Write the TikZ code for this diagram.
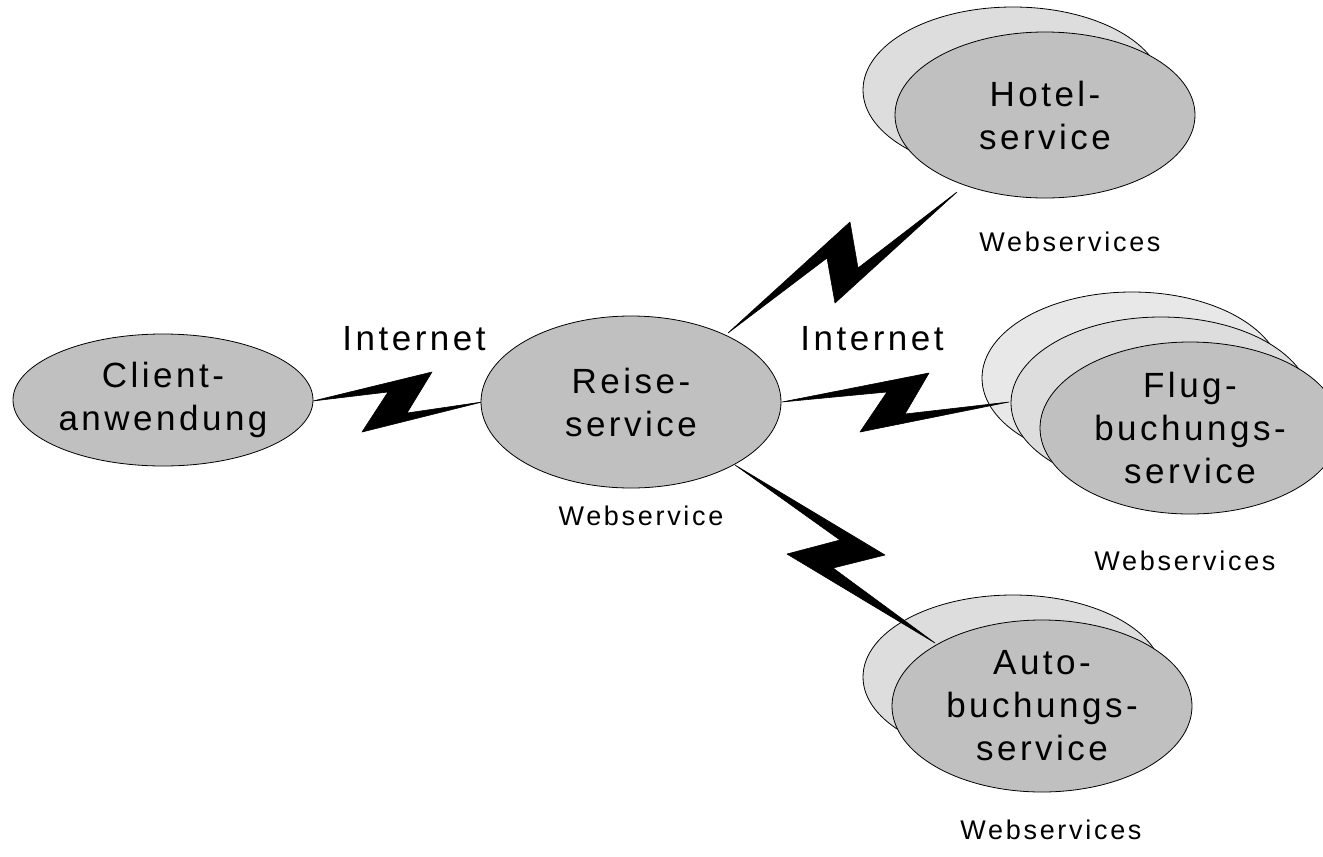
\documentclass[tikz,border=0pt]{standalone}
\usepackage{fontspec}
\setmainfont{Liberation Sans}
\newfontfamily\lsfont[LetterSpace=10]{Liberation Sans}
\usetikzlibrary{shapes.geometric}
\definecolor{frontgray}{HTML}{C0C0C0}
\definecolor{backgray}{HTML}{DDDDDD}
\definecolor{farback}{HTML}{E8E8E8}
\begin{document}
\begin{tikzpicture}[x=1pt,y=-1pt,
  svc/.style={ellipse, draw=black, line width=0.8pt, fill=frontgray, minimum width=300pt, minimum height=172pt, inner sep=0pt, align=center, font=\lsfont\fontsize{35}{43}\selectfont},
  ghost/.style={ellipse, draw=black, line width=0.8pt, fill=backgray, minimum width=300pt, minimum height=166pt, inner sep=0pt},
  small/.style={font=\lsfont\fontsize{27}{32}\selectfont, anchor=base},
  bigl/.style={font=\lsfont\fontsize{35}{43}\selectfont, anchor=base},
  bolt/.style={fill=black, draw=black, line width=0.6pt, line join=round}]
\useasboundingbox (0,0) rectangle (1323,857);
% back ellipses
\node[ghost] (hotelB) at (1013,90) {};
\node[ghost, fill=farback, minimum height=172pt] (flugB) at (1132,378) {};
\node[ghost, minimum height=172pt] (flugM) at (1161,403) {};
\node[ghost, minimum height=164pt] (autoB) at (1013,677) {};
% endpoints of the connectors
\coordinate (s1) at (313,401); \coordinate (e1) at (482,402);
\coordinate (s2) at (728,333); \coordinate (e2) at (957,192);
\coordinate (s3) at (782,402); \coordinate (e3) at (1009,402);
\coordinate (s4) at (735,465); \coordinate (e4) at (935,643);
% lightning connectors
\draw[bolt] (s1) -- (432,372) -- (407,413) -- (e1) -- (362,432) -- (388,392) -- cycle;
\draw[bolt] (s2) -- (850,222) -- (858,268) -- (e2) -- (835,303) -- (827,258) -- cycle;
\draw[bolt] (s3) -- (929,373) -- (905,414) -- (e3) -- (860,432) -- (887,392) -- cycle;
\draw[bolt] (s4) -- (885,555) -- (833,568) -- (e4) -- (787,554) -- (840,540) -- cycle;
% front ellipses
\node[svc, minimum height=132pt] (client) at (163,400) {Client-\\anwendung};
\node[svc] (reise) at (631,402) {Reise-\\service};
\node[svc, minimum height=166pt] (hotel) at (1045,115) {Hotel-\\service};
\node[svc] (flug) at (1190,428) {Flug-\\buchungs-\\service};
\node[svc] (auto) at (1042,706) {Auto-\\buchungs-\\service};
% labels
\node[bigl] (inet1) at (414,350) {Internet};
\node[bigl] (inet2) at (872,350) {Internet};
\node[small] (ws1) at (641,525) {Webservice};
\node[small] (ws2) at (1070,251) {Webservices};
\node[small] (ws3) at (1185,570) {Webservices};
\node[small] (ws4) at (1051,839) {Webservices};
\end{tikzpicture}
\end{document}
